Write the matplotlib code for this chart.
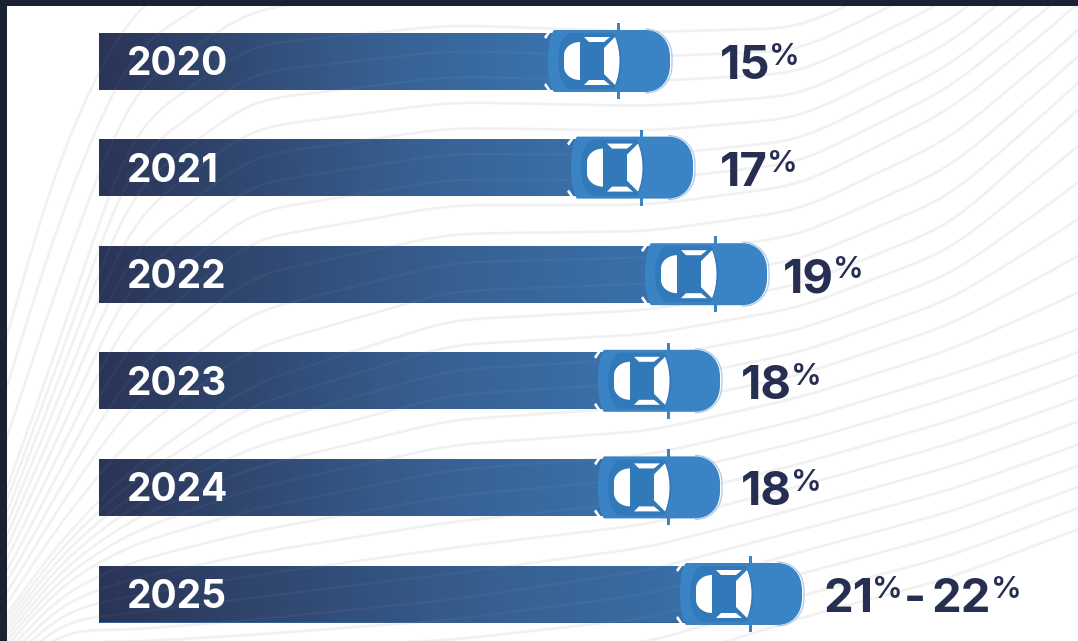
import numpy as np
import matplotlib
matplotlib.use('Agg')
import matplotlib.pyplot as plt
from matplotlib.colors import LinearSegmentedColormap
from matplotlib.patches import PathPatch, Rectangle
from matplotlib.path import Path
from matplotlib.transforms import Affine2D

years = ['2020', '2021', '2022', '2023', '2024', '2025']
share_low = [15, 17, 19, 18, 18, 21]
share_high = [15, 17, 19, 18, 18, 22]

# the bars are not to a straight scale, so the x axis bends through these knots
axis_values = [-1, 0, 15, 17, 18, 19, 21.5, 30]
axis_pixels = [0, 99, 670, 693, 720, 767, 802, 1078]

# space between the car nose and its label, per row
label_gaps = [50, 27, 16, 21, 21, 21]

W, H = 1078, 641
NAVY = '#262f52'
BODY = '#3a84c6'
CABIN = '#3279ba'
FRAME = '#1a2133'
WAVE = '#f1f1f1'
FONT = 'Inter'


def forward(v):
    return np.interp(v, axis_values, axis_pixels)


def inverse(p):
    return np.interp(p, axis_pixels, axis_values)


fig = plt.figure(figsize=(W / 100, H / 100), dpi=100, facecolor='white')

# wavy backdrop, in plain pixel coordinates
bg = fig.add_axes([0, 0, 1, 1])
bg.set_xlim(0, W)
bg.set_ylim(H, 0)
bg.axis('off')

stations = np.array([-40, 60, 130, 250, 450, 650, 800, 950, 1078, 1140])
guide_curves = np.array([
    [500, 150, 10, -60, -100, -120, -140, -170, -220, -260],
    [620, 340, 130, 45, 25, 32, 28, -45, -150, -220],
    [660, 470, 340, 240, 205, 205, 185, 110, 5, -60],
    [680, 540, 470, 385, 320, 310, 285, 225, 110, 50],
    [700, 585, 545, 510, 470, 455, 420, 375, 330, 300],
    [720, 630, 630, 620, 600, 570, 530, 490, 445, 420],
    [740, 690, 690, 695, 700, 690, 640, 600, 550, 530],
])
lines_between = [3, 7, 4, 6, 5, 5]

xs = np.linspace(-40, 1140, 600)
kernel = np.hanning(61)
kernel = kernel / kernel.sum()
waves = []
for k, n in enumerate(lines_between):
    for j in range(n):
        t = j / n
        ys = (1 - t) * guide_curves[k] + t * guide_curves[k + 1]
        dense = np.interp(xs, stations, ys)
        padded = np.pad(dense, 30, mode='edge')
        waves.append(np.convolve(padded, kernel, mode='valid'))
for ys in waves:
    bg.plot(xs, ys, color=WAVE, lw=1.9, solid_capstyle='round')

ax = fig.add_axes([0, 0, 1, 1])
ax.patch.set_alpha(0)
ax.set_xscale('function', functions=(forward, inverse))
ax.set_xlim(inverse(0), inverse(W))
row_px = 106.6
ax.set_ylim((H - 61) / row_px, -61 / row_px)
ax.axis('off')

# everything placed by hand in pixels sits in this top layer
overlay = fig.add_axes([0, 0, 1, 1])
overlay.patch.set_alpha(0)
overlay.set_xlim(0, W)
overlay.set_ylim(H, 0)
overlay.axis('off')

bar_height = 57 / row_px
bar_cmap = LinearSegmentedColormap.from_list(
    'road', ['#2a3456', '#376092', '#3b7fbf'])

values = [(a + b) / 2 for a, b in zip(share_low, share_high)]

bars = ax.barh(range(len(years)), values, height=bar_height,
               color='#376092', zorder=2)

for i, v in enumerate(values):
    # the square bar end stays hidden under the car
    clip = Rectangle((forward(0), 61 + i * row_px - 28.5),
                     forward(v) - forward(0) - 40, 57,
                     transform=overlay.transData)
    bars[i].set_clip_path(clip)
    x_edges = np.linspace(0, v, 200)
    y_edges = [i - bar_height / 2, i + bar_height / 2]
    shade = np.linspace(0, 1, 199).reshape(1, -1)
    mesh = ax.pcolormesh(x_edges, y_edges, shade, cmap=bar_cmap, zorder=3)
    mesh.set_clip_path(clip)
    # faint waves running over the bar
    for ys in waves:
        line, = overlay.plot(xs, ys, color='white', lw=1.6, alpha=0.04)
        line.set_clip_path(clip)


def car_paths():
    # drawn with the nose at x=0, the axle line at y=0 and y pointing down
    M, L, C, Z = Path.MOVETO, Path.LINETO, Path.CURVE4, Path.CLOSEPOLY
    body = Path(
        [(-116, -31), (-25, -31), (-10, -31), (0, -20), (0, -4), (0, 4),
         (0, 20), (-10, 31), (-25, 31), (-116, 31), (-124, 22), (-124, -22),
         (-116, -31), (-116, -31)],
        [M, L, C, C, C, L, C, C, C, L, C, C, C, Z])
    cabin = Path(
        [(-100, -28), (-56, -28), (-46, -10), (-46, 10), (-56, 28), (-100, 28),
         (-116, 24), (-116, -24), (-100, -28), (-100, -28)],
        [M, L, C, C, C, L, C, C, C, Z])
    rear_glass = Path(
        [(-90, -19), (-90, 19), (-100, 19), (-106, 12), (-106, 6), (-106, -6),
         (-106, -12), (-100, -19), (-90, -19)],
        [M, L, C, C, C, L, C, C, C])
    front_glass = Path(
        [(-66, -13), (-55, -24), (-49, -10), (-49, 10), (-55, 24), (-66, 13),
         (-66, -13)],
        [M, L, C, C, C, L, Z])
    side_top = Path(
        [(-86, -24), (-60, -24), (-66, -19), (-81, -19), (-86, -24)],
        [M, L, L, L, Z])
    side_bot = Path(
        [(-86, 24), (-60, 24), (-66, 19), (-81, 19), (-86, 24)],
        [M, L, L, L, Z])
    notch_top = Path([(-126, -24), (-121, -31), (-118, -31), (-124, -22), (-126, -24)],
                     [M, L, L, L, Z])
    notch_bot = Path([(-126, 24), (-121, 31), (-118, 31), (-124, 22), (-126, 24)],
                     [M, L, L, L, Z])
    outline = Path(
        [(-25, -32), (-9, -32), (2, -20), (2, -4), (2, 4), (2, 20), (-9, 32), (-25, 32)],
        [M, C, C, C, L, C, C, C])
    return body, cabin, (rear_glass, front_glass, side_top, side_bot, notch_top, notch_bot), outline


body, cabin, glass, outline = car_paths()

for i, v in enumerate(values):
    nose_x, row_y = ax.transData.transform((v, i))
    place = Affine2D().scale(1, -1).translate(nose_x, row_y)
    overlay.add_patch(PathPatch(outline, fc='none', ec='#a9cbe8', lw=0.9,
                                transform=place, zorder=5))
    # side mirrors stick out past the body
    overlay.add_patch(Rectangle((-53, -38), 3, 76, fc=BODY, ec='none',
                                transform=place, zorder=5))
    overlay.add_patch(PathPatch(body, fc=BODY, ec='none', transform=place, zorder=5))
    overlay.add_patch(PathPatch(cabin, fc=CABIN, ec='none', transform=place, zorder=6))
    for part in glass:
        overlay.add_patch(PathPatch(part, fc='white', ec='none', transform=place, zorder=7))

    overlay.text(127, 61 + i * row_px + 14, years[i], color='white', fontsize=28,
                 fontweight='bold', family=FONT, va='baseline', ha='left', zorder=8)

renderer = fig.canvas.get_renderer()

for i, (lo, hi) in enumerate(zip(share_low, share_high)):
    x = forward(values[i]) + label_gaps[i]
    yc = 61 + i * row_px
    numbers = [lo] if lo == hi else [lo, hi]
    for n, num in enumerate(numbers):
        t = overlay.text(x, yc + 18, str(num), color=NAVY, fontsize=34,
                         fontweight='bold', family=FONT, va='baseline', ha='left', zorder=8)
        x = t.get_window_extent(renderer).x1 - 1
        p = overlay.text(x, yc + 4, '%', color=NAVY, fontsize=22,
                         fontweight='semibold', family=FONT, va='baseline', ha='left', zorder=8)
        x = p.get_window_extent(renderer).x1 + 1
        if n < len(numbers) - 1:
            d = overlay.text(x, yc + 18, '-', color=NAVY, fontsize=34,
                             fontweight='bold', family=FONT, va='baseline', ha='left', zorder=8)
            x = d.get_window_extent(renderer).x1 + 6

# dark edge along the top and left
overlay.add_patch(Rectangle((0, 0), W, 5.5, fc=FRAME, ec='none', zorder=9))
overlay.add_patch(Rectangle((0, 0), 7, H, fc=FRAME, ec='none', zorder=9))

fig.savefig('out.png', dpi=100, facecolor='white')
